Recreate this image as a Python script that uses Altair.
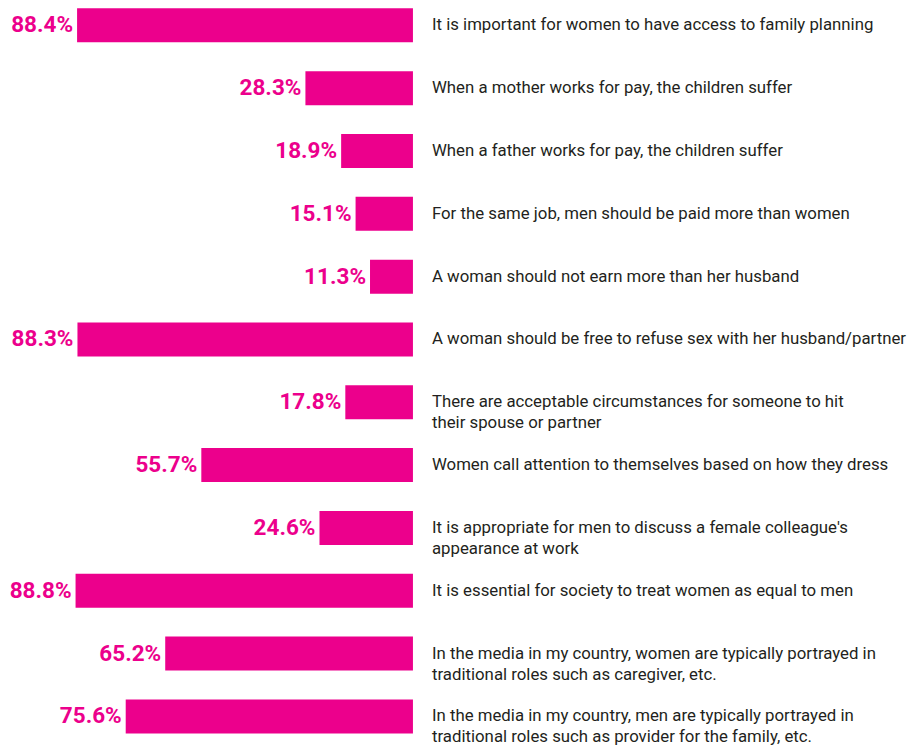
import altair as alt
import pandas as pd

statements = [
    "It is important for women to have access to family planning",
    "When a mother works for pay, the children suffer",
    "When a father works for pay, the children suffer",
    "For the same job, men should be paid more than women",
    "A woman should not earn more than her husband",
    "A woman should be free to refuse sex with her husband/partner",
    "There are acceptable circumstances for someone to hit\ntheir spouse or partner",
    "Women call attention to themselves based on how they dress",
    "It is appropriate for men to discuss a female colleague's\nappearance at work",
    "It is essential for society to treat women as equal to men",
    "In the media in my country, women are typically portrayed in\ntraditional roles such as caregiver, etc.",
    "In the media in my country, men are typically portrayed in\ntraditional roles such as provider for the family, etc.",
]
values = [88.4, 28.3, 18.9, 15.1, 11.3, 88.3, 17.8, 55.7, 24.6, 88.8, 65.2, 75.6]

df = pd.DataFrame({
    "statement": statements,
    "value": values,
    "row": list(range(len(values))),
    "zero": [0] * len(values),
})
df["label"] = df["value"].map(lambda v: f"{v:.1f}%")

MAGENTA = "#EC008C"
FONT = "Roboto"

xscale = alt.Scale(domain=[-132.4, 106.58], reverse=True, nice=False, zero=False)
yscale = alt.Scale(domain=[-0.19623, 11.2324], reverse=True, nice=False, zero=False)

base = alt.Chart(df)

bars = base.mark_bar(color=MAGENTA, size=34, orient="horizontal").encode(
    x=alt.X("value:Q", scale=xscale, axis=None),
    x2="zero:Q",
    y=alt.Y("row:Q", scale=yscale, axis=None),
)

vals = base.mark_text(
    align="right", baseline="middle", dx=-4, font=FONT, fontSize=22.5,
    fontWeight="bold", color=MAGENTA,
).encode(
    x=alt.X("value:Q", scale=xscale, axis=None),
    y=alt.Y("row:Q", scale=yscale, axis=None),
    text="label:N",
)

cats = base.mark_text(
    align="left", baseline="middle", dx=19, font=FONT, fontSize=16.8,
    lineHeight=21, lineBreak="\n", color="#231F20",
).encode(
    x=alt.X("zero:Q", scale=xscale, axis=None),
    y=alt.Y("row:Q", scale=yscale, axis=None),
    text="statement:N",
)

chart = (bars + vals + cats).properties(
    width=908, height=728, padding=0, background="white",
).configure_view(stroke=None)

chart.save("out.html", embed_options={"renderer": "svg", "actions": False})
